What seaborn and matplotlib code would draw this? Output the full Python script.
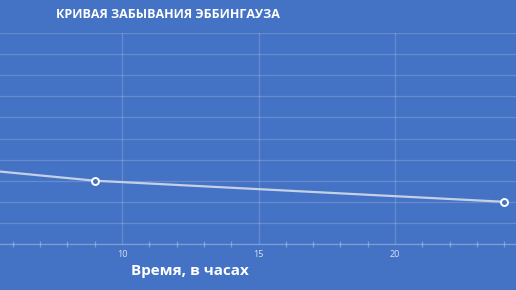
import matplotlib
matplotlib.use("Agg")
import matplotlib.pyplot as plt
import seaborn as sns
import pandas as pd
from matplotlib.ticker import MultipleLocator

# Data (hours, retention value)
hours = [1, 9, 24]
retention = [40, 30, 20]
title = "КРИВАЯ ЗАБЫВАНИЯ ЭББИНГАУЗА"
xlabel = "Время, в часах"
xticks = [10, 15, 20]

BG = "#4472C4"
sns.set_theme(style="white")
plt.rcParams['font.family'] = ['Open Sans', 'DejaVu Sans']

fig = plt.figure(figsize=(5.16, 2.90), dpi=100, facecolor=BG)
ax = fig.add_axes([0.0, 1 - 244 / 290, 1.0, (244 - 33) / 290])
ax.set_facecolor(BG)

df = pd.DataFrame({"hours": hours, "retention": retention})
sns.lineplot(data=df, x="hours", y="retention", ax=ax, color="#c5d0e6",
             linewidth=1.6, marker="o", markersize=5, markerfacecolor=BG,
             markeredgecolor="white", markeredgewidth=1.4, clip_on=True)

ax.set_xlim(5.53, 24.43)
ax.set_ylim(0, 100)
ax.set_xticks(xticks)
ax.set_xticklabels([str(t) for t in xticks])
ax.xaxis.set_minor_locator(MultipleLocator(1))
ax.yaxis.set_major_locator(MultipleLocator(10))
ax.set_yticklabels([])
ax.grid(True, which="major", axis="both", color="white", alpha=0.18, linewidth=0.9)
ax.tick_params(axis="x", which="both", direction="inout", length=4, width=0.9,
               color=(1, 1, 1, 0.3), labelsize=6.5, labelcolor="#dde4f2", pad=4,
               bottom=True)
ax.tick_params(axis="x", which="major", length=0)
ax.tick_params(axis="y", length=0)
for s in ["top", "right", "left"]:
    ax.spines[s].set_visible(False)
ax.spines["bottom"].set_color((1, 1, 1, 0.3))
ax.spines["bottom"].set_linewidth(0.9)
ax.set_xlabel("")
ax.set_ylabel("")

t = fig.text(168 / 516, 1 - 15 / 290, title, ha="center", va="center",
             color="white", fontsize=9, fontweight="bold")
fig.text(190 / 516, 1 - 271 / 290, xlabel, ha="center", va="center",
         color="white", fontsize=11, fontweight="bold")

fig.savefig("out.png", dpi=100, facecolor=BG)
